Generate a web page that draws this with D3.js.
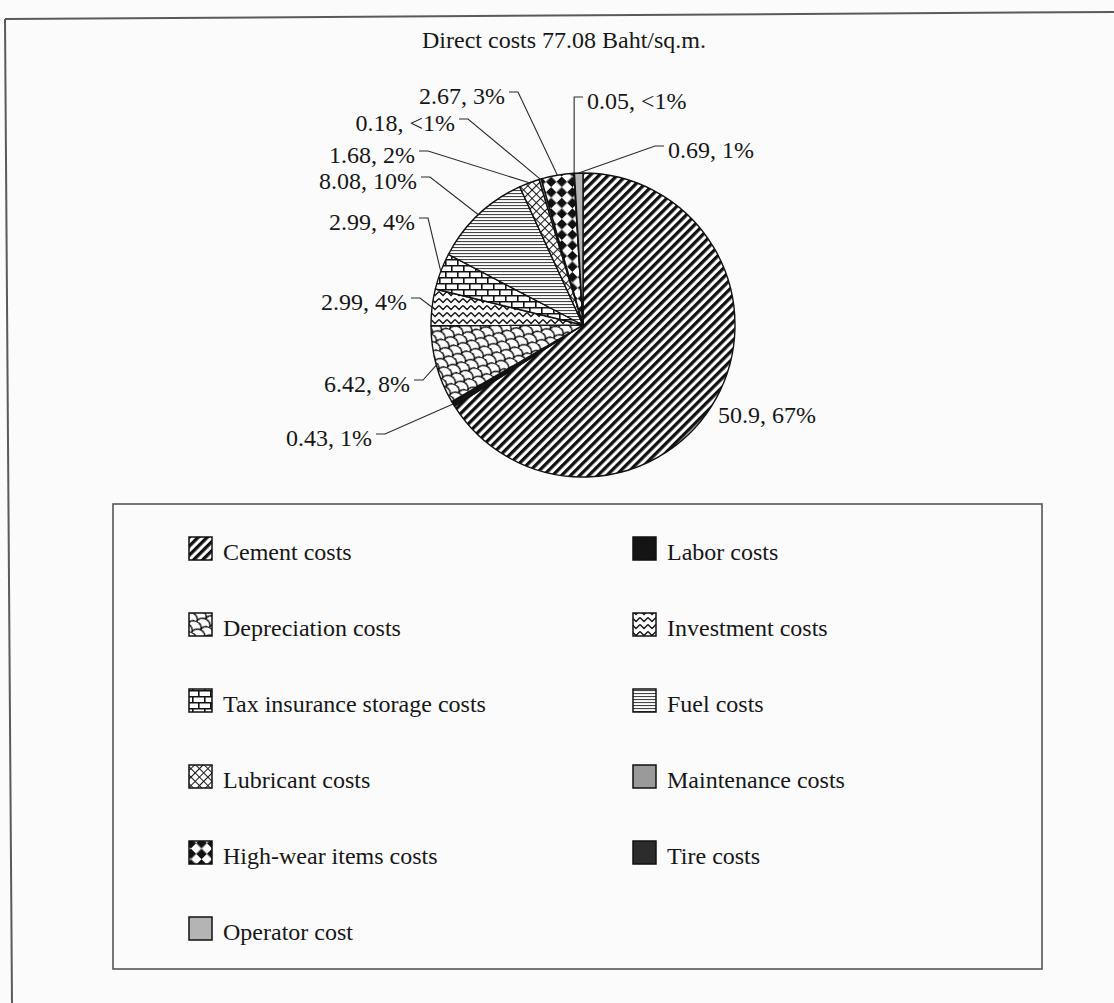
<!DOCTYPE html>
<html>
<head>
<meta charset="utf-8">
<script src="https://cdn.jsdelivr.net/npm/d3@7"></script>
<style>
  html, body { margin: 0; padding: 0; background: #fbfbfb; }
  svg { display: block; }
</style>
</head>
<body>
<svg id="chart" width="1114" height="1003"></svg>
<script>
// ---- data ----
const chartTitle = "Direct costs 77.08 Baht/sq.m.";
const categories = [
  "Cement costs", "Labor costs", "Depreciation costs", "Investment costs",
  "Tax insurance storage costs", "Fuel costs", "Lubricant costs",
  "Maintenance costs", "High-wear items costs", "Tire costs", "Operator cost"
];
const costValues = [50.9, 0.43, 6.42, 2.99, 2.99, 8.08, 1.68, 0.18, 2.67, 0.05, 0.69];
const percentLabels = ["67%", "1%", "8%", "4%", "4%", "10%", "2%", "<1%", "3%", "<1%", "1%"];
const fillKeys = [
  "cement", "labor", "depreciation", "investment", "tax", "fuel",
  "lubricant", "maintenance", "highwear", "tire", "operator"
];

// ---- layout ----
const W = 1114, H = 1003;
const cx = 583, cy = 325, R = 152;
const font = "'Liberation Serif', 'Times New Roman', serif";
const fontSize = 24;
const ink = "#161616";

// data-label placement: text anchor point (x = text edge nearest the pie, y = text middle)
const labelPlacement = [
  { x: 718, y: 415, side: "right", leader: "none" },
  { x: 372, y: 438, side: "left", leader: "elbow" },
  { x: 410, y: 384, side: "left", leader: "elbow" },
  { x: 407, y: 302, side: "left", leader: "elbow" },
  { x: 415, y: 222, side: "left", leader: "elbow" },
  { x: 417, y: 181, side: "left", leader: "elbow" },
  { x: 415, y: 155, side: "left", leader: "elbow" },
  { x: 455, y: 123, side: "left", leader: "elbow" },
  { x: 505, y: 96,  side: "left", leader: "elbow" },
  { x: 587, y: 101, side: "right", leader: "vertical" },
  { x: 668, y: 150, side: "right", leader: "elbow" }
];

const svg = d3.select("#chart");
svg.append("rect").attr("width", W).attr("height", H).attr("fill", "#fbfbfb");

// ---- fill patterns ----
const defs = svg.append("defs");
function pattern(id, w, h, transform) {
  const p = defs.append("pattern")
    .attr("id", id)
    .attr("patternUnits", "userSpaceOnUse")
    .attr("width", w).attr("height", h);
  if (transform) p.attr("patternTransform", transform);
  p.append("rect").attr("width", w).attr("height", h).attr("fill", "#fff");
  return p;
}

// wide upward diagonal stripes
pattern("p-cement", 6.4, 6.4, "rotate(45)")
  .append("rect").attr("width", 3.3).attr("height", 6.4).attr("fill", "#111");

// shingles
const shingle = pattern("p-depreciation", 14, 12, "rotate(25)");
shingle.append("path")
  .attr("d", "M0,6 A7,6 0 0 1 14,6 M-7,12 A7,6 0 0 1 7,12 M7,12 A7,6 0 0 1 21,12")
  .attr("fill", "none").attr("stroke", "#111").attr("stroke-width", 1.5);

// zig-zag waves
pattern("p-investment", 8, 7)
  .append("polyline").attr("points", "0,1.5 4,5.5 8,1.5")
  .attr("fill", "none").attr("stroke", "#111").attr("stroke-width", 1.4);

// horizontal bricks
pattern("p-tax", 12, 12)
  .append("path")
  .attr("d", "M0,0.8 H12 M0,6.8 H12 M0.8,0 V6.8 M6.8,6.8 V12")
  .attr("fill", "none").attr("stroke", "#111").attr("stroke-width", 1.6);

// narrow horizontal lines
pattern("p-fuel", 4, 3)
  .append("rect").attr("y", 0).attr("width", 4).attr("height", 1.1).attr("fill", "#444");

// diagonal lattice
pattern("p-lubricant", 6, 6, "rotate(45)")
  .append("path").attr("d", "M0,0.5 H6 M0.5,0 V6")
  .attr("fill", "none").attr("stroke", "#1a1a1a").attr("stroke-width", 1.1);

// solid diamonds (rotated checkerboard)
const diamond = pattern("p-highwear", 15, 15, "rotate(45)");
diamond.append("rect").attr("width", 7.5).attr("height", 7.5).attr("fill", "#111");
diamond.append("rect").attr("x", 7.5).attr("y", 7.5).attr("width", 7.5).attr("height", 7.5).attr("fill", "#111");

const fills = {
  cement: "url(#p-cement)",
  labor: "#141414",
  depreciation: "url(#p-depreciation)",
  investment: "url(#p-investment)",
  tax: "url(#p-tax)",
  fuel: "url(#p-fuel)",
  lubricant: "url(#p-lubricant)",
  maintenance: "#9a9a9a",
  highwear: "url(#p-highwear)",
  tire: "#2c2c2c",
  operator: "#b4b4b4"
};

// ---- outer chart frame (top and left edges) ----
svg.append("line").attr("x1", 5).attr("y1", 19).attr("x2", 1114).attr("y2", 12)
  .attr("stroke", "#5a5a5a").attr("stroke-width", 2);
svg.append("line").attr("x1", 5).attr("y1", 19).attr("x2", 12).attr("y2", 1003)
  .attr("stroke", "#5a5a5a").attr("stroke-width", 2);

// ---- title ----
svg.append("text")
  .attr("x", 564).attr("y", 48)
  .attr("text-anchor", "middle")
  .attr("font-family", font).attr("font-size", fontSize).attr("fill", ink)
  .text(chartTitle);

// ---- pie ----
const rows = categories.map((c, i) => ({
  name: c, value: costValues[i], pct: percentLabels[i], key: fillKeys[i], place: labelPlacement[i]
}));

const pie = d3.pie().sort(null).value(d => d.value).startAngle(0).endAngle(2 * Math.PI);
const arcs = pie(rows);
const arc = d3.arc().innerRadius(0).outerRadius(R);

const pieG = svg.append("g").attr("transform", `translate(${cx},${cy})`);
pieG.selectAll("path.slice")
  .data(arcs)
  .join("path")
  .attr("class", "slice")
  .attr("d", arc)
  .attr("fill", d => fills[d.data.key])
  .attr("stroke", "#111")
  .attr("stroke-width", 1.4)
  .attr("stroke-linejoin", "round");

// ---- data labels with leader lines ----
const labelG = svg.append("g");
arcs.forEach(a => {
  const p = a.data.place;
  const mid = (a.startAngle + a.endAngle) / 2;
  const [px, py] = d3.pointRadial(mid, R);
  const tip = [cx + px, cy + py];
  const ly = p.y - 4;
  let pts = null;
  if (p.leader === "elbow") {
    const dir = p.side === "left" ? 1 : -1;
    const sx = p.x + dir * 4;
    pts = [[sx, ly], [sx + dir * 9, ly], tip];
  } else if (p.leader === "vertical") {
    pts = [[p.x - 4, ly], [tip[0], ly], tip];
  }
  if (pts) {
    labelG.append("path")
      .attr("d", d3.line()(pts))
      .attr("fill", "none")
      .attr("stroke", "#2a2a2a")
      .attr("stroke-width", 1.1);
  }
  labelG.append("text")
    .attr("x", p.x)
    .attr("y", p.y + 8)
    .attr("text-anchor", p.side === "left" ? "end" : "start")
    .attr("font-family", font).attr("font-size", fontSize).attr("fill", ink)
    .text(`${a.data.value}, ${a.data.pct}`);
});

// ---- legend ----
const legendBox = { x: 113, y: 504, w: 929, h: 465 };
svg.append("rect")
  .attr("x", legendBox.x).attr("y", legendBox.y)
  .attr("width", legendBox.w).attr("height", legendBox.h)
  .attr("fill", "none").attr("stroke", "#555").attr("stroke-width", 1.6);

const colSwatchX = [189, 633];
const rowTop0 = 537, rowStep = 76, sw = 23;
const legendG = svg.append("g");
rows.forEach((d, i) => {
  const col = i % 2, row = Math.floor(i / 2);
  const x = colSwatchX[col], y = rowTop0 + row * rowStep;
  legendG.append("rect")
    .attr("x", x).attr("y", y).attr("width", sw).attr("height", sw)
    .attr("fill", fills[d.key]).attr("stroke", "#111").attr("stroke-width", 1.5);
  legendG.append("text")
    .attr("x", x + 34).attr("y", y + 23)
    .attr("font-family", font).attr("font-size", fontSize).attr("fill", ink)
    .text(d.name);
});
</script>
</body>
</html>
